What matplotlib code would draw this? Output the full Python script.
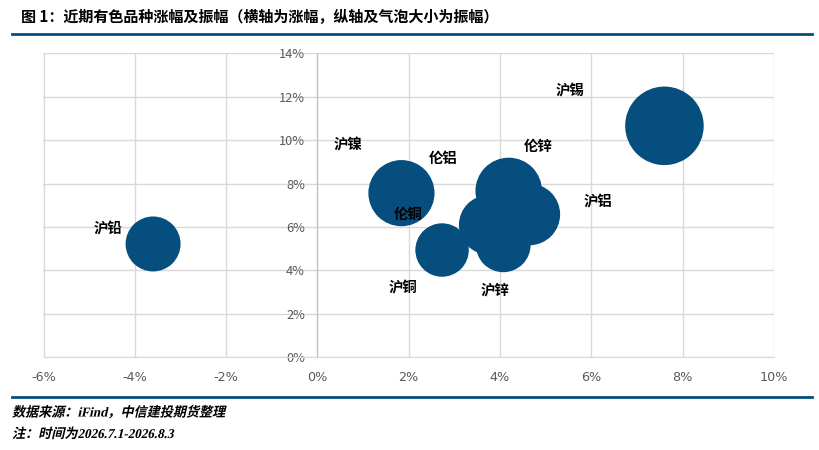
import matplotlib as mpl
mpl.use('Agg')
import matplotlib.pyplot as plt
from matplotlib.lines import Line2D
from matplotlib.textpath import TextPath, text_to_path
from matplotlib.patches import PathPatch
from matplotlib.font_manager import FontProperties
from matplotlib.transforms import Affine2D
from matplotlib.ticker import FuncFormatter

plt.rcParams['font.family'] = ['Noto Sans CJK SC', 'DejaVu Sans']

# bubbles: x = 涨幅 (%), y = 振幅 (%), bubble size = 振幅
zhangfu = [-3.60, 1.84, 2.73, 3.75, 4.07, 4.64, 4.19, 7.60]
zhenfu = [5.22, 7.56, 4.94, 6.10, 5.18, 6.58, 7.66, 10.66]

# data labels as placed on the chart
names = ['沪铅', '沪镍', '伦铝', '伦铜', '沪铜', '伦锌', '沪铝', '沪锌', '沪锡']
name_x = [-4.58, 0.66, 2.75, 1.99, 1.88, 4.83, 6.14, 3.90, 5.53]
name_y = [5.88, 9.79, 9.13, 6.54, 3.19, 9.70, 7.11, 3.09, 12.25]

xticks = [-6, -4, -2, 0, 2, 4, 6, 8, 10]
yticks = [0, 2, 4, 6, 8, 10, 12, 14]

title = '图 1：近期有色品种涨幅及振幅（横轴为涨幅，纵轴及气泡大小为振幅）'
source = [('数据来源：', 'Noto Sans CJK SC'), ('iFind', 'Liberation Serif'),
          ('，中信建投期货整理', 'Noto Sans CJK SC')]
note = [('注：时间为', 'Noto Sans CJK SC'), ('2026.7.1-2026.8.3', 'Liberation Serif')]

blue = '#064e7d'
W, H = 820, 450

fig = plt.figure(figsize=(8.2, 4.5), dpi=100)
ax = fig.add_axes([43.5 / W, 1 - 357.3 / H, (774 - 43.5) / W, (357.3 - 53.3) / H])

ax.scatter(zhangfu, zhenfu, s=[300 * v for v in zhenfu], color=blue, edgecolors='none', zorder=3)

for n, lx, ly in zip(names, name_x, name_y):
    ax.text(lx, ly, n, ha='center', va='center', fontsize=10.4, fontweight='bold', color='black', zorder=4)

ax.set_xlim(-6, 10)
ax.set_ylim(0, 14)
ax.set_xticks(xticks)
ax.set_yticks(yticks)
ax.xaxis.set_major_formatter(FuncFormatter(lambda v, p: '%d%%' % v))
ax.yaxis.set_major_formatter(FuncFormatter(lambda v, p: '%d%%' % v))
ax.tick_params(length=0, labelsize=9.2, labelcolor='#595959')
ax.tick_params(axis='x', pad=10)
ax.tick_params(axis='y', pad=9)
for lab in ax.get_xticklabels() + ax.get_yticklabels():
    lab.set_family('DejaVu Sans')
ax.grid(True, color='#d9d9d9', lw=1, zorder=0)
ax.set_axisbelow(True)
for side in ['top', 'right']:
    ax.spines[side].set_visible(False)
ax.spines['left'].set_position(('data', 0))
ax.spines['left'].set_color('#bfbfbf')
ax.spines['bottom'].set_color('#d9d9d9')

# header and footer
fig.text(21 / W, 1 - 17 / H, title, ha='left', va='center', fontsize=10.85, fontweight='bold', color='black')
fig.add_artist(Line2D([12 / W, 812 / W], [1 - 33.5 / H, 1 - 33.5 / H], color=blue, lw=2))
fig.add_artist(Line2D([12 / W, 812 / W], [1 - 397 / H, 1 - 397 / H], color=blue, lw=2))


def slanted(parts, x, y, size):
    # bold italic look: draw glyph outlines with a skew
    for s, fam in parts:
        prop = FontProperties(family=fam, weight='bold', size=size)
        tp = TextPath((0, 0), s, size=size, prop=prop)
        tr = Affine2D().scale(0.97, 1).skew_deg(13, 0).translate(x, H - y)
        fig.add_artist(PathPatch(tr.transform_path(tp), facecolor='black', edgecolor='none',
                                 transform=None))
        w = text_to_path.get_text_width_height_descent(s, prop, ismath=False)[0]
        x += w * 0.97


slanted(source, 12, 416.5, 13.5)
slanted(note, 12, 438, 13.5)

fig.savefig('out.png', dpi=100)
